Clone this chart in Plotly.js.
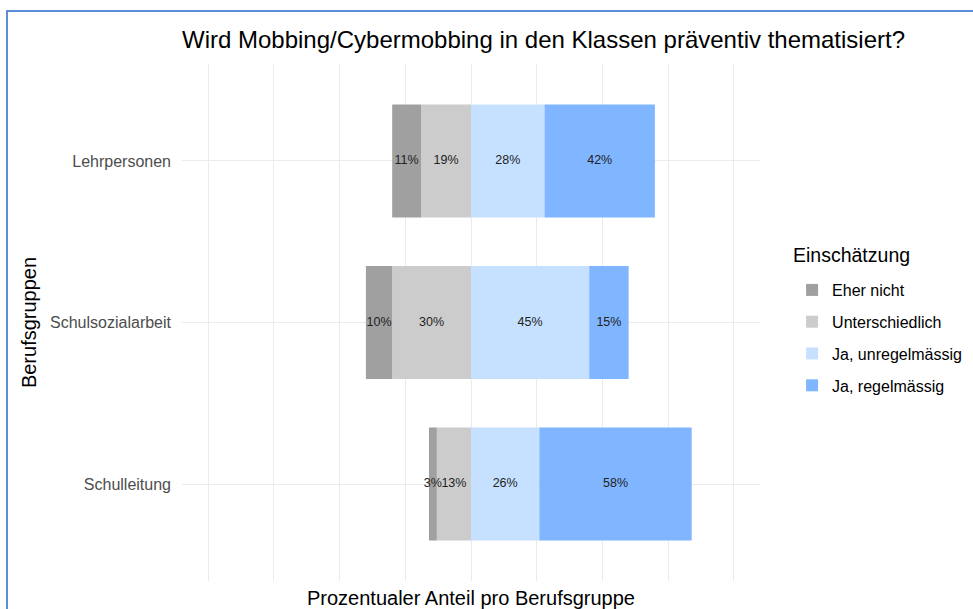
<!DOCTYPE html>
<html>
<head>
<meta charset="utf-8">
<script src="https://cdn.plot.ly/plotly-3.0.1.min.js"></script>
<style>
  html, body { margin: 0; padding: 0; background: #ffffff; overflow: hidden; }
  #chart { width: 973px; height: 609px; }
  #frame { position: absolute; left: 6px; top: 10px; width: 1000px; height: 700px;
           border-left: 2px solid #5b8ed6; border-top: 2px solid #5b8ed6;
           pointer-events: none; z-index: 10; }
</style>
</head>
<body>
<div id="chart"></div>
<div id="frame"></div>
<script>
// ---- data ----
const groups = ["Lehrpersonen", "Schulsozialarbeit", "Schulleitung"];
const eherNicht = [11, 10, 3];
const unterschiedlich = [19, 30, 13];
const jaUnregelmaessig = [28, 45, 26];
const jaRegelmaessig = [42, 15, 58];
const seriesNames = ["Eher nicht", "Unterschiedlich", "Ja, unregelmässig", "Ja, regelmässig"];
const seriesColors = ["#a0a0a0", "#cccccc", "#c6e1ff", "#80b5ff"];
const legendTitle = "Einschätzung";

// ---- traces ----
const neg = v => v.map(x => -x);
function barTrace(name, xs, color, rank) {
  return {
    type: "bar", orientation: "h", name: name, y: groups, x: xs,
    marker: { color: color, line: { width: 0 } },
    legendgroup: name, legendrank: rank, hoverinfo: "name+y",
    width: 0.7
  };
}
const traces = [
  barTrace(seriesNames[1], neg(unterschiedlich), seriesColors[1], 2),
  barTrace(seriesNames[0], neg(eherNicht), seriesColors[0], 1),
  barTrace(seriesNames[2], jaUnregelmaessig, seriesColors[2], 3),
  barTrace(seriesNames[3], jaRegelmaessig, seriesColors[3], 4)
];

// label positions: segment midpoints derived from the data
const labX = [], labY = [], labT = [];
groups.forEach((g, i) => {
  labX.push(-unterschiedlich[i] / 2); labY.push(g); labT.push(unterschiedlich[i] + "%");
  labX.push(-unterschiedlich[i] - eherNicht[i] / 2); labY.push(g); labT.push(eherNicht[i] + "%");
  labX.push(jaUnregelmaessig[i] / 2); labY.push(g); labT.push(jaUnregelmaessig[i] + "%");
  labX.push(jaUnregelmaessig[i] + jaRegelmaessig[i] / 2); labY.push(g); labT.push(jaRegelmaessig[i] + "%");
});
traces.push({
  type: "scatter", mode: "text", x: labX, y: labY, text: labT,
  textposition: "middle center",
  textfont: { family: "Liberation Sans, Arial, sans-serif", size: 12.5, color: "#222222" },
  showlegend: false, hoverinfo: "skip"
});

const T = 64, B = 28, H = 609;
const plotH = H - T - B;
const layout = {
  width: 973, height: H,
  margin: { l: 182, r: 213, t: T, b: B, autoexpand: false },
  paper_bgcolor: "#ffffff", plot_bgcolor: "#ffffff",
  font: { family: "Liberation Sans, Arial, sans-serif", color: "#000000" },
  barmode: "relative",
  title: {
    text: "Wird Mobbing/Cybermobbing in den Klassen präventiv thematisiert?",
    font: { size: 24, color: "#000000" },
    x: 0, xref: "paper", xanchor: "left",
    y: 1 - 40 / H, yref: "container", yanchor: "middle"
  },
  xaxis: {
    range: [-110, 110],
    tickvals: [-100, -75, -50, -25, 0, 25, 50, 75, 100],
    showticklabels: false, ticks: "",
    showgrid: true, gridcolor: "#ebebeb", gridwidth: 1,
    zeroline: false, showline: false, fixedrange: true,
    title: { text: "Prozentualer Anteil pro Berufsgruppe", font: { size: 20, color: "#000000" }, standoff: 10 }
  },
  yaxis: {
    type: "category", categoryorder: "array", categoryarray: groups,
    range: [2.6, -0.6],
    showgrid: true, gridcolor: "#ebebeb", gridwidth: 1,
    zeroline: false, showline: false, ticks: "", fixedrange: true,
    ticklabelstandoff: 10,
    tickfont: { size: 16, color: "#4d4d4d" },
    title: { text: "Berufsgruppen", font: { size: 20, color: "#000000" }, standoff: 8 }
  },
  legend: {
    x: 1.0555, xanchor: "left", y: 1 - (273 - T) / plotH, yanchor: "top",
    traceorder: "grouped", tracegroupgap: 8,
    font: { size: 16, color: "#000000" },
    bgcolor: "rgba(0,0,0,0)"
  },
  annotations: [{
    text: legendTitle, xref: "paper", yref: "paper",
    x: (791 - 182) / (973 - 182 - 213), y: 1 - (255 - T) / plotH,
    xanchor: "left", yanchor: "middle", showarrow: false,
    font: { size: 19.5, color: "#000000" }
  }],
  showlegend: true
};

Plotly.newPlot("chart", traces, layout, { displayModeBar: false, staticPlot: true });
</script>
</body>
</html>
